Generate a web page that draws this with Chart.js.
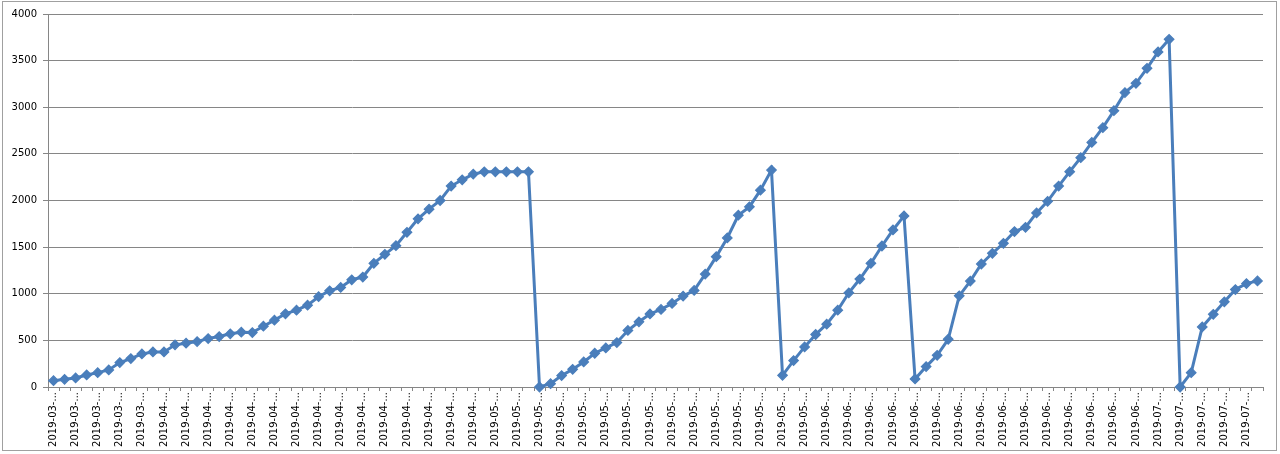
<!DOCTYPE html>
<html lang="en">
<head>
<meta charset="utf-8">
<title>Line chart</title>
<style>
  html, body { margin: 0; padding: 0; background: #fff; }
  #wrap { width: 1280px; height: 454px; }
</style>
</head>
<body>
<div id="wrap"><canvas id="myChart" width="1280" height="454"></canvas></div>

<script src="https://cdn.jsdelivr.net/npm/chart.js@4.4.0/dist/chart.umd.min.js"></script>
<script>
// axis labels are cut off by the chart itself, only year and month are visible
var categories = [
  '2019-03-...', '2019-03-...', '2019-03-...', '2019-03-...', '2019-03-...', '2019-03-...', '2019-03-...', '2019-03-...', '2019-03-...', '2019-03-...',
  '2019-04-...', '2019-04-...', '2019-04-...', '2019-04-...', '2019-04-...', '2019-04-...', '2019-04-...', '2019-04-...', '2019-04-...', '2019-04-...',
  '2019-04-...', '2019-04-...', '2019-04-...', '2019-04-...', '2019-04-...', '2019-04-...', '2019-04-...', '2019-04-...', '2019-04-...', '2019-04-...',
  '2019-04-...', '2019-04-...', '2019-04-...', '2019-04-...', '2019-04-...', '2019-04-...', '2019-04-...', '2019-04-...', '2019-04-...', '2019-04-...',
  '2019-05-...', '2019-05-...', '2019-05-...', '2019-05-...', '2019-05-...', '2019-05-...', '2019-05-...', '2019-05-...', '2019-05-...', '2019-05-...',
  '2019-05-...', '2019-05-...', '2019-05-...', '2019-05-...', '2019-05-...', '2019-05-...', '2019-05-...', '2019-05-...', '2019-05-...', '2019-05-...',
  '2019-05-...', '2019-05-...', '2019-05-...', '2019-05-...', '2019-05-...', '2019-05-...', '2019-05-...', '2019-05-...', '2019-05-...', '2019-05-...',
  '2019-06-...', '2019-06-...', '2019-06-...', '2019-06-...', '2019-06-...', '2019-06-...', '2019-06-...', '2019-06-...', '2019-06-...', '2019-06-...',
  '2019-06-...', '2019-06-...', '2019-06-...', '2019-06-...', '2019-06-...', '2019-06-...', '2019-06-...', '2019-06-...', '2019-06-...', '2019-06-...',
  '2019-06-...', '2019-06-...', '2019-06-...', '2019-06-...', '2019-06-...', '2019-06-...', '2019-06-...', '2019-06-...', '2019-06-...', '2019-06-...',
  '2019-07-...', '2019-07-...', '2019-07-...', '2019-07-...', '2019-07-...', '2019-07-...', '2019-07-...', '2019-07-...', '2019-07-...', '2019-07-...'
];

var values = [
  68, 82, 97, 129, 154, 183, 262, 305, 355, 376,
  376, 452, 470, 487, 520, 541, 570, 588, 584, 652,
  717, 785, 824, 878, 968, 1032, 1068, 1150, 1179, 1326,
  1423, 1516, 1659, 1803, 1907, 2000, 2155, 2222, 2283, 2308,
  2308, 2308, 2308, 2308, 0, 36, 122, 190, 269, 362,
  419, 477, 606, 699, 783, 832, 896, 975, 1036, 1211,
  1398, 1598, 1842, 1932, 2111, 2326, 125, 283, 430, 563,
  674, 824, 1010, 1158, 1326, 1512, 1684, 1835, 86, 219,
  340, 512, 978, 1136, 1319, 1434, 1541, 1667, 1713, 1867,
  1991, 2155, 2309, 2459, 2623, 2781, 2963, 3157, 3257, 3418,
  3593, 3729, 0, 154, 644, 780, 913, 1045, 1109, 1138
];

var yTicks = [0, 500, 1000, 1500, 2000, 2500, 3000, 3500, 4000];

var axisFont = { family: 'DejaVu Sans', size: 10 };

// white background and the thin grey frame round the whole chart
var frame = {
  id: 'frame',
  beforeDraw: function(chart) {
    var c = chart.ctx;
    c.save();
    c.fillStyle = '#fff';
    c.fillRect(0, 0, chart.width, chart.height);
    c.strokeStyle = '#a0a0a0';
    c.lineWidth = 1;
    c.strokeRect(2.5, 1.5, 1274, 449);
    c.restore();
  }
};

var ctx = document.getElementById('myChart').getContext('2d');
var chart = new Chart(ctx, {
  type: 'line',
  data: {
    labels: categories,
    datasets: [{
      data: values,
      borderColor: '#4a7ebb',
      backgroundColor: '#4a7ebb',
      borderWidth: 3,
      tension: 0,
      pointStyle: 'rectRot',
      pointRadius: 4.75,
      pointBorderWidth: 1.25,
      pointBackgroundColor: '#4a7ebb',
      pointBorderColor: '#4a7ebb',
      clip: false
    }]
  },
  options: {
    responsive: false,
    animation: false,
    layout: { padding: { left: 0, right: 17, top: 14, bottom: 0 } },
    plugins: {
      legend: { display: false },
      tooltip: { enabled: false }
    },
    scales: {
      x: {
        offset: true,
        grid: { offset: true, drawOnChartArea: false, drawTicks: true, tickLength: 4, color: '#868686' },
        border: { color: '#868686' },
        ticks: {
          autoSkip: false,
          maxRotation: 90,
          minRotation: 90,
          padding: 1,
          color: '#000',
          font: axisFont,
          callback: function(v, i) {
            return i % 2 === 0 ? this.getLabelForValue(v) : '';
          }
        },
        afterFit: function(s) { s.height = 67; }
      },
      y: {
        min: 0,
        max: 4000,
        grid: { color: '#868686', tickLength: 5 },
        border: { color: '#868686' },
        ticks: {
          padding: 6,
          color: '#000',
          font: axisFont,
          callback: function(v) { return String(v); }
        },
        afterBuildTicks: function(axis) {
          axis.ticks = yTicks.map(function(v) { return { value: v }; });
        },
        afterFit: function(s) { s.width = 48; }
      }
    }
  },
  plugins: [frame]
});
</script>
</body>
</html>
